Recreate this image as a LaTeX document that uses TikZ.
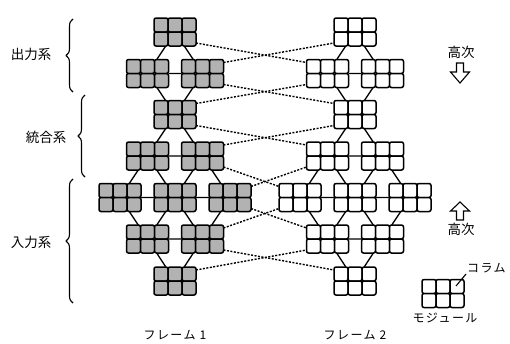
\documentclass[tikz,border=0pt]{standalone}
\usepackage{fontspec}
\newfontfamily\jp{Noto Sans CJK JP}
\newfontfamily\jpsp[LetterSpace=12]{Noto Sans CJK JP}
\usetikzlibrary{calc,decorations.pathreplacing}
\pgfdeclarelayer{bg}
\pgfsetlayers{bg,main}
\tikzset{
  modbox/.style={minimum width=42pt, minimum height=28pt, inner sep=0pt, outer sep=0pt, draw=none},
  cellst/.style={line width=1.5pt, rounded corners=2pt},
  link/.style={line width=1.3pt},
  dline/.style={line width=1.4pt, dash pattern=on 2pt off 1.5pt},
  lab/.style={font=\jp\fontsize{13.5}{15}\selectfont, inner sep=1pt},
  labsp/.style={font=\jpsp\fontsize{12}{14}\selectfont, inner sep=1pt},
  bracest/.style={decorate, decoration={brace, amplitude=7pt}, line width=1.1pt},
  harrow/.style={line width=1.1pt, line join=miter}
}
\newcommand\drawmod[4]{%
  \node[modbox] (#1) at (#2,#3) {};
  \foreach \ci in {0,1,2}{\foreach \cj in {0,1}{
    \draw[cellst,fill=#4] ($(#1.north west)+(\ci*14,\cj*14)$) rectangle +(14,14);}}
}
\begin{document}
\begin{tikzpicture}[x=1pt,y=-1pt,line join=round]
\useasboundingbox (0,0) rectangle (510,343);
\colorlet{modgray}{black!30}
\foreach \p/\f/\cx in {a/modgray/175, b/white/355}{
  \drawmod{\p1}{\cx}{32}{\f}
  \drawmod{\p2l}{\cx-27.5}{73.5}{\f}
  \drawmod{\p2r}{\cx+27.5}{73.5}{\f}
  \drawmod{\p3}{\cx}{114.5}{\f}
  \drawmod{\p4l}{\cx-27.5}{156}{\f}
  \drawmod{\p4r}{\cx+27.5}{156}{\f}
  \drawmod{\p5l}{\cx-55}{197.5}{\f}
  \drawmod{\p5c}{\cx}{197.5}{\f}
  \drawmod{\p5r}{\cx+55}{197.5}{\f}
  \drawmod{\p6l}{\cx-27.5}{239}{\f}
  \drawmod{\p6r}{\cx+27.5}{239}{\f}
  \drawmod{\p7}{\cx}{281}{\f}
}
\begin{pgfonlayer}{bg}
\foreach \p in {a,b}{
  \draw[link] (\p1) -- (\p2l) (\p1) -- (\p2r) (\p2l) -- (\p2r)
    (\p2l) -- (\p3) (\p2r) -- (\p3)
    (\p3) -- (\p4l) (\p3) -- (\p4r) (\p4l) -- (\p4r)
    (\p4l) -- (\p5l) (\p4l) -- (\p5c) (\p4r) -- (\p5c) (\p4r) -- (\p5r)
    (\p5l) -- (\p5c) (\p5c) -- (\p5r)
    (\p5l) -- (\p6l) (\p5c) -- (\p6l) (\p5c) -- (\p6r) (\p5r) -- (\p6r)
    (\p6l) -- (\p6r) (\p6l) -- (\p7) (\p6r) -- (\p7);
}
\end{pgfonlayer}
% dashed inter-frame links
\foreach \ra/\rb/\la/\lb in {a1/a2r/b1/b2l, a2r/a3/b2l/b3, a3/a4r/b3/b4l, a4r/a5r/b4l/b5l, a5r/a6r/b5l/b6l, a6r/a7/b6l/b7}{
  \draw[dline] ([yshift=3pt]\ra.south east) -- ([yshift=-3pt]\lb.north west);
  \draw[dline] ([yshift=-3pt]\rb.north east) -- ([yshift=3pt]\la.south west);
}
% braces and labels
\draw[bracest] (73,92) -- (73,19);
\draw[bracest] (85,177) -- (85,95);
\draw[bracest] (73,303) -- (73,179);
\node[lab] (out) at (31,54) {出力系};
\node[lab] (int) at (46,137) {統合系};
\node[lab] (inp) at (31,242) {入力系};
% higher-order arrows
\node[lab] (hi1) at (461,52) {高次};
\draw[harrow] (456.5,63) -- (463.5,63) -- (463.5,72) -- (469.5,72) -- (460,83) -- (450.5,72) -- (456.5,72) -- cycle;
\draw[harrow] (460,202) -- (469.5,211) -- (463.5,211) -- (463.5,220) -- (456.5,220) -- (456.5,211) -- (450.5,211) -- cycle;
\node[lab] (hi2) at (461,229) {高次};
% legend
\drawmod{leg}{443}{293.5}{white}
\coordinate (colpt) at (456,286);
\node[labsp, anchor=west] (kolam) at (466,268) {コラム};
\draw[line width=1.1pt] (colpt) -- (kolam.south west);
\node[labsp] (modl) at (445,318) {モジュール};
% frame labels
\node[labsp] (f1) at (175,335) {フレーム 1};
\node[labsp] (f2) at (355,335) {フレーム 2};
\end{tikzpicture}
\end{document}
